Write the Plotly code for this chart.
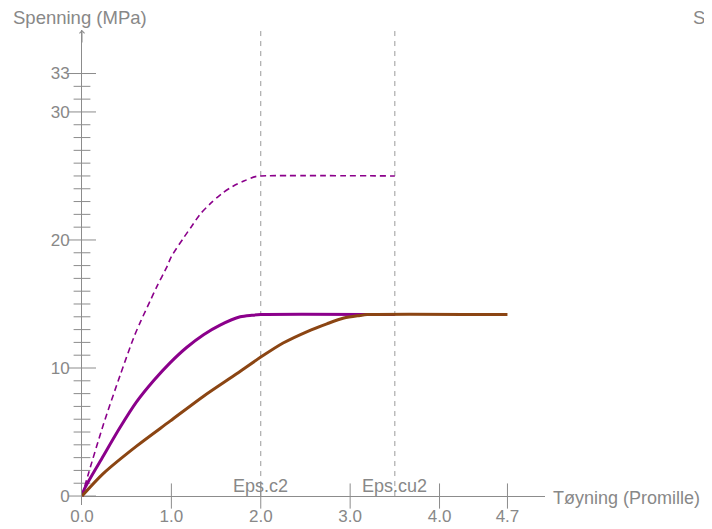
import plotly.graph_objects as go

# ---- data ----
# characteristic curve (fck = 25 MPa), dashed purple
eps_fck = [0.0, 0.07, 0.24, 0.425, 0.58, 0.66, 0.76, 0.84, 0.95, 1.0, 1.14, 1.22, 1.32,
           1.43, 1.56, 1.69, 1.81, 1.94, 2.0, 3.5]
sig_fck = [0.0, 1.7, 5.6, 9.4, 12.4, 13.7, 15.2, 16.4, 17.9, 18.7, 20.2, 21.0, 22.0,
           22.8, 23.6, 24.2, 24.6, 24.95, 25.0, 25.0]

# design curve (fcd), solid purple
eps_fcd = [0.0, 0.03, 0.24, 0.425, 0.61, 0.80, 0.985, 1.17, 1.36, 1.545, 1.77, 1.9, 2.0, 3.5]
sig_fcd = [0.0, 0.6, 3.15, 5.35, 7.35, 9.0, 10.4, 11.6, 12.6, 13.35, 14.0, 14.12, 14.17, 14.17]

# long-term curve, solid brown
eps_lt = [0.0, 0.24, 0.61, 0.985, 1.36, 1.73, 2.0, 2.25, 2.52, 2.74, 2.93, 3.11, 3.19, 4.76]
sig_lt = [0.0, 1.77, 3.9, 5.85, 7.8, 9.55, 10.85, 11.95, 12.85, 13.45, 13.9, 14.1, 14.17, 14.17]

eps_c2 = 2.0
eps_cu2 = 3.5

x_ticks = [0.0, 1.0, 2.0, 3.0, 4.0, 4.76]
x_ticktext = ["0.0", "1.0", "2.0", "3.0", "4.0", "4.7"]
y_major = [0, 10, 20, 30, 33]
y_minor = [v for v in range(1, 33) if v not in y_major]

X_MAX = 5.18
Y_MIN, Y_MAX = -0.7, 36.4

GREY = "#8c8c8c"
TXT = "#888888"
PURPLE = "#8b008b"
BROWN = "#8b4513"
FONT = "Liberation Sans, Arial, sans-serif"

fig = go.Figure()

# vertical dashed reference lines
for e in (eps_c2, eps_cu2):
    fig.add_trace(go.Scatter(x=[e, e], y=[0, Y_MAX], mode="lines",
                             line=dict(color="#9a9a9a", width=1, dash="5px,5px"),
                             hoverinfo="skip"))

# tick marks (crossing the axes)
fig.add_trace(go.Scatter(x=x_ticks[1:], y=[0] * (len(x_ticks) - 1), mode="markers",
                         marker=dict(symbol="line-ns", size=18,
                                     line=dict(color=GREY, width=1)),
                         cliponaxis=False, hoverinfo="skip"))
fig.add_trace(go.Scatter(x=[0] * len(y_major), y=y_major, mode="markers",
                         marker=dict(symbol="line-ew", size=20,
                                     line=dict(color=GREY, width=1)),
                         cliponaxis=False, hoverinfo="skip"))
fig.add_trace(go.Scatter(x=[0] * len(y_minor), y=y_minor, mode="markers",
                         marker=dict(symbol="line-ew", size=12,
                                     line=dict(color=GREY, width=1)),
                         cliponaxis=False, hoverinfo="skip"))

# curves
fig.add_trace(go.Scatter(x=eps_fck, y=sig_fck, mode="lines",
                         line=dict(color=PURPLE, width=1.6, dash="6px,4px",
                                   shape="spline", smoothing=0.8)))
fig.add_trace(go.Scatter(x=eps_fcd, y=sig_fcd, mode="lines",
                         line=dict(color=PURPLE, width=3, shape="spline", smoothing=0.8)))
fig.add_trace(go.Scatter(x=eps_lt, y=sig_lt, mode="lines",
                         line=dict(color=BROWN, width=3, shape="spline", smoothing=0.8)))

# page has an 8px body margin: figure is drawn 8px right/down
OFF = 8
W, H = 712 - OFF, 529 - OFF
L, T = 82 - OFF, 30 - OFF
R, B = 167, 24
pw, ph = W - L - R, H - T - B


def px(xp):
    return (xp - OFF - L) / pw


def py(yp):
    return (H - B - (yp - OFF)) / ph


annotations = [
    dict(text="Spenning (MPa)", xref="paper", yref="paper", x=px(11), y=py(17),
         xanchor="left", yanchor="middle", showarrow=False,
         font=dict(size=18.5, color=TXT, family=FONT)),
    dict(text="Spenning (MPa)", xref="paper", yref="paper", x=px(691), y=py(17),
         xanchor="left", yanchor="middle", showarrow=False,
         font=dict(size=18.5, color=TXT, family=FONT)),
    dict(text="Tøyning (Promille)", xref="paper", yref="paper", x=px(551), y=py(498),
         xanchor="left", yanchor="middle", showarrow=False,
         font=dict(size=18, color=TXT, family=FONT)),
    dict(text="Eps.c2", x=eps_c2, y=0, xref="x", yref="y", xanchor="center",
         yanchor="bottom", showarrow=False, yshift=-2,
         font=dict(size=18, color=TXT, family=FONT)),
    dict(text="Eps.cu2", x=eps_cu2, y=0, xref="x", yref="y", xanchor="center",
         yanchor="bottom", showarrow=False, yshift=-2,
         font=dict(size=18, color=TXT, family=FONT)),
    # axis arrows
    dict(text="", x=0, y=Y_MAX, xref="x", yref="y", ax=0, ay=14,
         showarrow=True, arrowhead=4, arrowsize=1, arrowwidth=1, arrowcolor=GREY),
    dict(text="", x=X_MAX + 0.03, y=0, xref="x", yref="y", ax=-14, ay=0,
         showarrow=True, arrowhead=4, arrowsize=1, arrowwidth=1, arrowcolor=GREY),
]

fig.update_layout(
    width=W, height=H, autosize=False,
    margin=dict(l=L, r=R, t=T, b=B, pad=0),
    paper_bgcolor="white", plot_bgcolor="white",
    showlegend=False,
    annotations=annotations,
    font=dict(family=FONT, color=TXT, size=17),
    xaxis=dict(range=[0, X_MAX], tickmode="array", tickvals=x_ticks, ticktext=x_ticktext,
               showgrid=False, zeroline=False, showline=False, automargin=False,
               ticks="", ticklabelstandoff=-1,
               tickfont=dict(size=17, color=TXT, family=FONT)),
    yaxis=dict(range=[Y_MIN, Y_MAX], tickmode="array", tickvals=y_major,
               ticktext=[str(v) for v in y_major], automargin=False,
               showgrid=False, zeroline=True, zerolinecolor=GREY, zerolinewidth=1,
               showline=True, linecolor=GREY, linewidth=1,
               ticks="outside", ticklen=8, tickcolor="rgba(0,0,0,0)",
               tickfont=dict(size=17, color=TXT, family=FONT)),
)

fig.write_html("out.html")
